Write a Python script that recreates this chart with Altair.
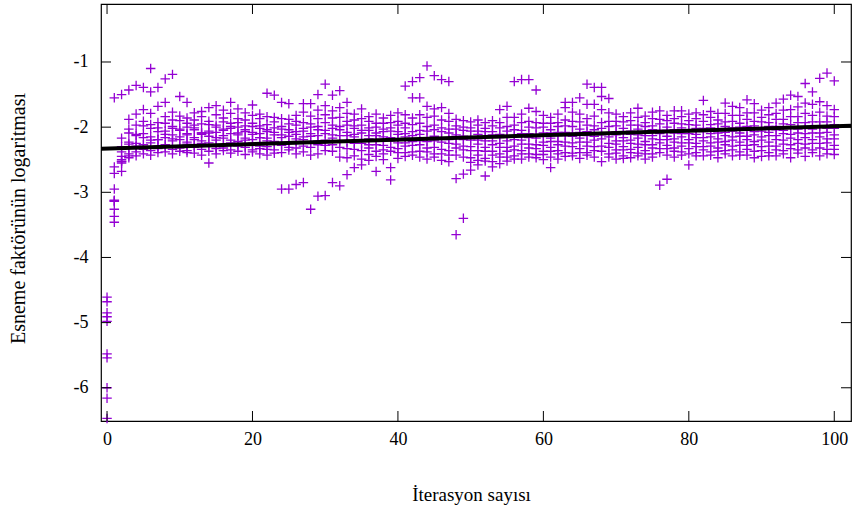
import altair as alt
import pandas as pd

# Log of the stretch factor, 10 walkers per iteration
rows_00_20 = [
    "-4.61 -4.68 -4.85 -4.91 -4.98 -5.48 -5.54 -6.00 -6.16 -6.47",
    "-1.55 -2.61 -2.71 -2.95 -3.12 -3.14 -3.26 -3.37 -3.46 -3.13",
    "-1.50 -2.17 -2.30 -2.38 -2.45 -2.50 -2.52 -2.55 -2.53 -2.68",
    "-1.43 -1.88 -2.03 -2.09 -2.23 -2.26 -2.31 -2.41 -2.44 -2.47",
    "-1.36 -1.80 -1.97 -2.11 -2.13 -2.25 -2.29 -2.30 -2.38 -2.44",
    "-1.39 -1.73 -1.91 -1.98 -2.10 -2.16 -2.27 -2.31 -2.34 -2.41",
    "-1.10 -1.46 -1.79 -1.96 -2.02 -2.15 -2.20 -2.24 -2.36 -2.43",
    "-1.39 -1.68 -1.93 -2.01 -2.07 -2.19 -2.19 -2.29 -2.33 -2.39",
    "-1.26 -1.62 -1.84 -1.94 -2.06 -2.11 -2.16 -2.27 -2.30 -2.38",
    "-1.19 -1.77 -1.89 -1.99 -2.02 -2.12 -2.18 -2.21 -2.34 -2.41",
    "-1.53 -1.83 -1.90 -2.03 -2.05 -2.15 -2.19 -2.29 -2.32 -2.37",
    "-1.62 -1.86 -1.94 -2.00 -2.10 -2.12 -2.23 -2.26 -2.36 -2.39",
    "-1.78 -1.89 -1.97 -2.01 -2.04 -2.16 -2.19 -2.28 -2.31 -2.40",
    "-1.76 -1.84 -1.95 -2.09 -2.09 -2.11 -2.21 -2.25 -2.34 -2.43",
    "-1.70 -1.91 -1.96 -2.06 -2.09 -2.14 -2.24 -2.29 -2.37 -2.55",
    "-1.67 -1.81 -1.97 -2.00 -2.08 -2.16 -2.20 -2.30 -2.33 -2.41",
    "-1.74 -1.86 -1.92 -2.03 -2.05 -2.13 -2.17 -2.27 -2.32 -2.36",
    "-1.62 -1.79 -1.94 -1.99 -2.02 -2.10 -2.20 -2.24 -2.35 -2.40",
    "-1.72 -1.87 -1.93 -2.00 -2.09 -2.12 -2.22 -2.25 -2.29 -2.37",
    "-1.78 -1.89 -1.98 -2.04 -2.07 -2.17 -2.20 -2.28 -2.31 -2.42",
    "-1.66 -1.82 -1.94 -1.99 -2.08 -2.11 -2.19 -2.24 -2.35 -2.38",
]
rows_21_40 = [
    "-1.80 -1.87 -1.98 -2.02 -2.10 -2.16 -2.16 -2.29 -2.33 -2.41",
    "-1.48 -1.84 -1.96 -2.04 -2.07 -2.17 -2.21 -2.30 -2.34 -2.43",
    "-1.51 -1.85 -1.92 -2.01 -2.08 -2.12 -2.22 -2.26 -2.35 -2.40",
    "-1.62 -1.87 -1.99 -2.03 -2.12 -2.16 -2.25 -2.28 -2.39 -2.95",
    "-1.64 -1.88 -1.95 -2.04 -2.08 -2.14 -2.23 -2.31 -2.35 -2.95",
    "-1.82 -1.91 -1.97 -2.07 -2.11 -2.18 -2.22 -2.32 -2.41 -2.88",
    "-1.64 -1.77 -1.93 -2.02 -2.06 -2.15 -2.19 -2.29 -2.38 -2.85",
    "-1.64 -1.83 -1.95 -2.00 -2.10 -2.14 -2.24 -2.31 -2.43 -3.26",
    "-1.50 -1.74 -1.87 -1.99 -2.04 -2.13 -2.21 -2.27 -2.41 -3.06",
    "-1.34 -1.67 -1.81 -1.93 -2.05 -2.10 -2.20 -2.28 -2.36 -3.05",
    "-1.51 -1.75 -1.86 -1.97 -2.02 -2.12 -2.17 -2.27 -2.37 -2.85",
    "-1.44 -1.70 -1.85 -1.99 -2.04 -2.13 -2.21 -2.31 -2.46 -2.90",
    "-1.62 -1.79 -1.91 -1.97 -2.08 -2.13 -2.23 -2.33 -2.47 -2.73",
    "-1.80 -1.89 -1.98 -2.02 -2.11 -2.15 -2.25 -2.34 -2.44 -2.62",
    "-1.72 -1.87 -1.97 -2.05 -2.09 -2.19 -2.25 -2.36 -2.49 -2.58",
    "-1.84 -1.91 -2.01 -2.05 -2.13 -2.18 -2.27 -2.32 -2.42 -2.51",
    "-1.80 -1.94 -2.00 -2.09 -2.13 -2.21 -2.27 -2.37 -2.45 -2.68",
    "-1.86 -1.94 -2.03 -2.07 -2.15 -2.20 -2.28 -2.35 -2.41 -2.50",
    "-1.82 -1.93 -2.01 -2.06 -2.16 -2.21 -2.31 -2.37 -2.62 -2.81",
    "-1.78 -1.91 -1.97 -2.07 -2.11 -2.19 -2.24 -2.33 -2.39 -2.48",
]
rows_41_60 = [
    "-1.37 -1.81 -1.94 -2.01 -2.10 -2.15 -2.24 -2.29 -2.39 -2.45",
    "-1.30 -1.55 -1.86 -1.96 -2.07 -2.13 -2.22 -2.28 -2.38 -2.43",
    "-1.24 -1.55 -1.81 -1.94 -2.05 -2.11 -2.21 -2.27 -2.37 -2.46",
    "-1.06 -1.68 -1.85 -1.99 -2.06 -2.16 -2.22 -2.32 -2.38 -2.49",
    "-1.21 -1.72 -1.83 -1.97 -2.04 -2.14 -2.21 -2.31 -2.41 -2.46",
    "-1.27 -1.70 -1.89 -2.01 -2.07 -2.17 -2.23 -2.34 -2.41 -2.51",
    "-1.30 -1.79 -1.91 -2.03 -2.09 -2.19 -2.25 -2.36 -2.43 -2.53",
    "-1.88 -1.98 -2.03 -2.12 -2.17 -2.26 -2.32 -2.43 -2.79 -3.65",
    "-1.90 -2.00 -2.05 -2.14 -2.19 -2.29 -2.35 -2.46 -2.72 -3.40",
    "-1.92 -2.01 -2.06 -2.15 -2.20 -2.30 -2.36 -2.47 -2.54 -2.66",
    "-1.89 -1.97 -2.06 -2.11 -2.20 -2.26 -2.36 -2.43 -2.51 -2.58",
    "-1.93 -2.02 -2.07 -2.16 -2.21 -2.31 -2.37 -2.48 -2.52 -2.75",
    "-1.90 -1.98 -2.07 -2.12 -2.21 -2.27 -2.37 -2.43 -2.53 -2.61",
    "-1.73 -1.93 -2.01 -2.11 -2.16 -2.25 -2.31 -2.41 -2.46 -2.56",
    "-1.68 -1.85 -1.99 -2.06 -2.15 -2.21 -2.31 -2.37 -2.46 -2.52",
    "-1.30 -1.85 -1.97 -2.04 -2.13 -2.19 -2.29 -2.35 -2.44 -2.49",
    "-1.27 -1.80 -1.93 -2.05 -2.10 -2.20 -2.26 -2.36 -2.41 -2.49",
    "-1.27 -1.71 -1.91 -2.00 -2.10 -2.16 -2.26 -2.32 -2.41 -2.46",
    "-1.43 -1.76 -1.93 -2.01 -2.11 -2.17 -2.27 -2.33 -2.42 -2.47",
    "-1.82 -1.94 -2.00 -2.09 -2.14 -2.23 -2.28 -2.37 -2.42 -2.50",
]
rows_61_80 = [
    "-1.85 -1.94 -2.04 -2.09 -2.17 -2.22 -2.31 -2.37 -2.46 -2.62",
    "-1.80 -1.93 -1.99 -2.08 -2.13 -2.22 -2.27 -2.36 -2.41 -2.49",
    "-1.62 -1.70 -1.89 -1.98 -2.08 -2.13 -2.23 -2.29 -2.39 -2.45",
    "-1.62 -1.77 -1.91 -1.99 -2.09 -2.14 -2.24 -2.30 -2.40 -2.44",
    "-1.55 -1.80 -1.92 -2.03 -2.08 -2.17 -2.23 -2.33 -2.39 -2.48",
    "-1.34 -1.65 -1.87 -1.97 -2.07 -2.13 -2.23 -2.29 -2.39 -2.43",
    "-1.39 -1.65 -1.83 -1.98 -2.04 -2.14 -2.20 -2.30 -2.36 -2.46",
    "-1.39 -1.53 -1.73 -1.93 -2.02 -2.12 -2.18 -2.29 -2.37 -2.53",
    "-1.56 -1.78 -1.91 -1.99 -2.09 -2.15 -2.25 -2.31 -2.41 -2.46",
    "-1.80 -1.91 -1.98 -2.07 -2.12 -2.21 -2.26 -2.35 -2.40 -2.49",
    "-1.84 -1.92 -2.02 -2.07 -2.16 -2.21 -2.30 -2.35 -2.44 -2.48",
    "-1.78 -1.90 -1.97 -2.06 -2.11 -2.20 -2.25 -2.34 -2.39 -2.47",
    "-1.71 -1.85 -1.97 -2.03 -2.12 -2.17 -2.26 -2.31 -2.40 -2.44",
    "-1.83 -1.93 -1.99 -2.08 -2.13 -2.22 -2.27 -2.36 -2.41 -2.49",
    "-1.77 -1.87 -1.98 -2.04 -2.13 -2.18 -2.27 -2.32 -2.41 -2.46",
    "-1.75 -1.88 -1.95 -2.05 -2.10 -2.19 -2.24 -2.33 -2.39 -2.89",
    "-1.82 -1.90 -2.00 -2.05 -2.14 -2.19 -2.28 -2.33 -2.43 -2.80",
    "-1.75 -1.87 -1.94 -2.04 -2.09 -2.18 -2.23 -2.32 -2.37 -2.46",
    "-1.75 -1.84 -1.95 -2.01 -2.10 -2.15 -2.24 -2.29 -2.38 -2.43",
    "-1.80 -1.90 -1.96 -2.05 -2.10 -2.19 -2.24 -2.33 -2.41 -2.58",
]
rows_81_100 = [
    "-1.78 -1.87 -1.97 -2.02 -2.11 -2.16 -2.25 -2.30 -2.39 -2.44",
    "-1.59 -1.81 -1.91 -2.02 -2.07 -2.16 -2.21 -2.30 -2.35 -2.44",
    "-1.76 -1.85 -1.96 -2.01 -2.10 -2.15 -2.24 -2.29 -2.38 -2.43",
    "-1.79 -1.89 -1.95 -2.04 -2.09 -2.18 -2.23 -2.32 -2.37 -2.47",
    "-1.63 -1.79 -1.92 -1.99 -2.08 -2.13 -2.22 -2.27 -2.36 -2.41",
    "-1.68 -1.82 -1.91 -2.01 -2.06 -2.15 -2.20 -2.29 -2.35 -2.44",
    "-1.70 -1.82 -1.94 -2.00 -2.09 -2.14 -2.23 -2.28 -2.38 -2.43",
    "-1.58 -1.78 -1.88 -1.99 -2.05 -2.14 -2.19 -2.28 -2.34 -2.43",
    "-1.64 -1.78 -1.91 -1.98 -2.07 -2.12 -2.22 -2.27 -2.37 -2.47",
    "-1.74 -1.85 -1.92 -2.01 -2.06 -2.15 -2.20 -2.30 -2.36 -2.45",
    "-1.70 -1.81 -1.93 -1.99 -2.08 -2.13 -2.23 -2.29 -2.39 -2.44",
    "-1.63 -1.79 -1.88 -1.99 -2.04 -2.13 -2.19 -2.29 -2.35 -2.44",
    "-1.57 -1.74 -1.88 -1.95 -2.05 -2.10 -2.20 -2.26 -2.36 -2.41",
    "-1.51 -1.73 -1.84 -1.96 -2.02 -2.11 -2.17 -2.27 -2.33 -2.47",
    "-1.53 -1.69 -1.84 -1.93 -2.03 -2.09 -2.19 -2.25 -2.35 -2.40",
    "-1.33 -1.63 -1.79 -1.93 -2.00 -2.10 -2.16 -2.26 -2.32 -2.45",
    "-1.46 -1.65 -1.82 -1.92 -2.03 -2.09 -2.19 -2.25 -2.35 -2.39",
    "-1.25 -1.61 -1.77 -1.92 -1.99 -2.09 -2.15 -2.25 -2.32 -2.44",
    "-1.17 -1.67 -1.83 -1.92 -2.02 -2.08 -2.18 -2.24 -2.34 -2.41",
    "-1.29 -1.73 -1.84 -1.96 -2.02 -2.12 -2.18 -2.28 -2.34 -2.42",
]

iterations = list(range(101))
fit_x = [-0.83, 102.3]
fit_y = [-2.33, -1.98]
x_ticks = [0, 20, 40, 60, 80, 100]
y_ticks = [-6, -5, -4, -3, -2, -1]

all_rows = rows_00_20 + rows_21_40 + rows_41_60 + rows_61_80 + rows_81_100
records = []
for it, row in zip(iterations, all_rows):
    for v in row.split():
        records.append({"iter": it, "value": float(v)})
df = pd.DataFrame(records)
fit_df = pd.DataFrame({"iter": fit_x, "value": fit_y})
xt_df = pd.DataFrame({"iter": x_ticks})
yt_df = pd.DataFrame({"value": y_ticks})

W, H = 750, 417
FONT = "Liberation Serif"
xscale = alt.Scale(domain=[-0.83, 102.3], nice=False, zero=False)
yscale = alt.Scale(domain=[-6.51, -0.11], nice=False, zero=False)

xaxis = alt.Axis(
    values=x_ticks, ticks=False, domain=False, grid=False,
    labelFont=FONT, labelFontSize=18, labelColor="black", labelPadding=9,
    labelFlush=False, labelOverlap=False,
    title="İterasyon sayısı", titleFont=FONT, titleFontSize=19,
    titleFontWeight="normal", titleColor="black",
    titleX=370, titleY=73, titleAlign="center", titleBaseline="middle")
yaxis = alt.Axis(
    values=y_ticks, ticks=False, domain=False, grid=False,
    labelFont=FONT, labelFontSize=18, labelColor="black", labelPadding=13,
    labelExpr="'' + datum.value",
    title="Esneme faktörünün logaritması", titleFont=FONT, titleFontSize=20,
    titleFontWeight="normal", titleColor="black",
    titleX=-83, titleY=214, titleAlign="center", titleBaseline="middle",
    titleAngle=270)

X = alt.X("iter:Q", scale=xscale, axis=xaxis)
Y = alt.Y("value:Q", scale=yscale, axis=yaxis)

plus = "M-1,0L1,0M0,-1L0,1"

points = alt.Chart(df).mark_point(
    shape=plus, size=90, filled=False, color="#9400D3", strokeWidth=1.3, opacity=1
).encode(x=X, y=Y)

fit = alt.Chart(fit_df).mark_line(color="black", strokeWidth=4).encode(x=X, y=Y)

tick_style = dict(color="black", strokeWidth=1)
bottom_ticks = alt.Chart(xt_df).mark_rule(**tick_style).encode(
    x=X, y=alt.value(H), y2=alt.value(H - 10))
top_ticks = alt.Chart(xt_df).mark_rule(**tick_style).encode(
    x=X, y=alt.value(0), y2=alt.value(10))
left_ticks = alt.Chart(yt_df).mark_rule(**tick_style).encode(
    y=Y, x=alt.value(0), x2=alt.value(10))
right_ticks = alt.Chart(yt_df).mark_rule(**tick_style).encode(
    y=Y, x=alt.value(W), x2=alt.value(W - 10))

chart = alt.layer(
    points, fit, bottom_ticks, top_ticks, left_ticks, right_ticks
).properties(
    width=W, height=H,
    padding={"left": 101, "top": 4, "right": 3, "bottom": 89},
    autosize=alt.AutoSizeParams(type="none"),
    background="white",
).configure_view(stroke="black", strokeWidth=1.2)

chart.save("out.html", embed_options={"renderer": "svg", "actions": False})
